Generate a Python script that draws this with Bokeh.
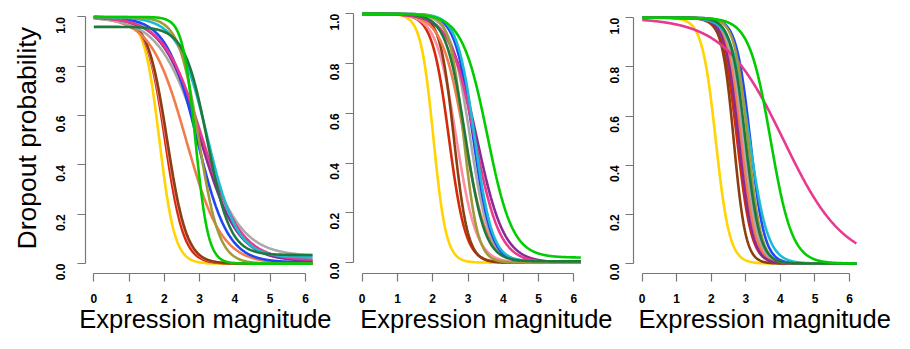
import numpy as np
from bokeh.plotting import figure
from bokeh.layouts import row, column
from bokeh.models import Range1d, FixedTicker, NumeralTickFormatter, Title
from bokeh.core.properties import value
from bokeh.embed import file_html
from bokeh.resources import INLINE

# ---------------- data ----------------
curve_names = ["gold", "red", "pink", "brown", "coral", "gray", "purple",
               "blue", "magenta", "cyan", "olive", "darkgreen", "green"]
curve_colors = ["#FFD400", "#D42A0A", "#FF8DA1", "#8B3E0F", "#F27B4B", "#A9A9A9",
                "#8B2A93", "#1F45F5", "#E8388F", "#19BCD2", "#A09A3C", "#1D7A3C", "#00CC00"]

# fitted logistic dropout curves: midpoint, slope, upper and lower asymptote
p1_midpoint = [1.86, 2.02, 2.06, 2.08, 2.62, 3.00, 3.02, 2.93, 3.08, 3.22, 2.98, 3.22, 2.88]
p1_slope    = [4.6, 3.8, 3.6, 3.6, 2.0, 1.7, 1.9, 2.3, 1.85, 2.4, 3.5, 3.1, 5.5]
p1_upper    = [1, 1, 1, 1, 1, 1, 1, 1, 1, 1, 1, 0.96, 1]
p1_lower    = [0, 0, 0, 0, 0, 0.03, 0.01, 0.005, 0.013, 0.025, 0, 0.035, 0]

p2_midpoint = [2.02, 2.46, 2.67, 2.60, 2.90, 3.06, 3.25, 3.15, 3.19, 3.19, 2.88, 2.93, 3.55]
p2_slope    = [5.5, 4.2, 3.5, 5.0, 3.1, 3.7, 2.6, 3.9, 2.8, 4.0, 5.0, 3.6, 2.8]
p2_upper    = [1] * 13
p2_lower    = [0, 0, 0, 0, 0, 0.005, 0, 0, 0, 0.005, 0, 0.005, 0.02]

p3_midpoint = [2.13, 2.75, 2.89, 2.65, 2.86, 2.94, 2.80, 3.13, 4.10, 3.11, 3.06, 2.99, 3.72]
p3_slope    = [5.0, 4.8, 4.8, 5.8, 4.9, 4.8, 5.0, 4.9, 1.15, 3.8, 5.2, 4.8, 3.2]
p3_upper    = [1] * 13
p3_lower    = [0] * 13

x_max = 6.2
x_ticks = [0, 1, 2, 3, 4, 5, 6]
y_ticks = [0.0, 0.2, 0.4, 0.6, 0.8, 1.0]
x_title = "Expression magnitude"
y_title = "Dropout probability"

# ---------------- layout / style ----------------
FONT = "Liberation Sans"
AXIS_COLOR = "#777777"
ROW_H = 288            # height of the three panels
STRIP_H = 333 - ROW_H  # strip below: x tick labels and x titles
STRIP_TOP = 20         # part of the strip above its frame (tick labels)

# pixel geometry of each panel
panels = [
    dict(left=0,   width=320, axis=85,  x0=93.3,  ppx=35.28, fh=277, y0=267.0, y1=16.7, ys=17, tx=78.7),
    dict(left=320, width=280, axis=353, x0=361.7, ppx=35.27, fh=276, y0=265.0, y1=13.5, ys=11, tx=359.7),
    dict(left=600, width=294, axis=633, x0=641.7, ppx=34.55, fh=273, y0=263.0, y1=17.3, ys=11, tx=638.0),
]
curve_sets = [
    (p1_midpoint, p1_slope, p1_upper, p1_lower),
    (p2_midpoint, p2_slope, p2_upper, p2_lower),
    (p3_midpoint, p3_slope, p3_upper, p3_lower),
]


def style_axis(ax):
    ax.axis_line_color = AXIS_COLOR
    ax.axis_line_width = 1.2
    ax.major_tick_line_color = AXIS_COLOR
    ax.major_tick_line_width = 1.2
    ax.major_tick_out = 8
    ax.major_tick_in = 0
    ax.minor_tick_out = 0
    ax.minor_tick_in = 0
    ax.major_label_text_font = FONT
    ax.major_label_text_font_style = "bold"
    ax.major_label_text_font_size = "12px"
    ax.major_label_text_color = "black"


def make_panel(curves, g):
    mid, slope, upper, lower = curves
    border_left = g["axis"] - g["left"]
    frame_w = g["width"] - border_left
    x0_local = g["x0"] - g["left"]
    x_start = (border_left - x0_local) / g["ppx"]
    x_end = x_start + frame_w / g["ppx"]
    ppy = g["y0"] - g["y1"]
    y_start = -(g["fh"] - g["y0"]) / ppy
    y_end = y_start + g["fh"] / ppy
    p = figure(width=g["width"], height=ROW_H,
               x_range=Range1d(x_start, x_end), y_range=Range1d(y_start, y_end),
               output_backend="svg", toolbar_location=None,
               min_border_left=border_left, min_border_right=0,
               min_border_top=0, min_border_bottom=ROW_H - g["fh"])
    p.outline_line_color = None
    p.grid.visible = False
    xs = np.linspace(0, x_max, 500)
    for c, m, k, hi, lo in zip(curve_colors, mid, slope, upper, lower):
        ys = lo + (hi - lo) / (1.0 + np.exp(k * (xs - m)))
        p.line(xs, ys, line_color=c, line_width=2.6)
    p.xaxis.ticker = FixedTicker(ticks=x_ticks)
    p.yaxis.ticker = FixedTicker(ticks=y_ticks)
    p.yaxis.formatter = NumeralTickFormatter(format="0.0")
    p.xaxis.bounds = (0, 6)
    p.yaxis.bounds = (0, 1)
    style_axis(p.xaxis[0])
    style_axis(p.yaxis[0])
    # this axis only draws the line and ticks; its labels are written in the strip below
    p.xaxis.major_label_text_color = None
    p.xaxis.major_label_text_font_size = "0px"
    p.xaxis.major_label_standoff = 0
    p.yaxis.major_label_standoff = g["ys"]
    p.yaxis.major_label_orientation = np.pi / 2
    return p


figs = [make_panel(c, g) for c, g in zip(curve_sets, panels)]

figs[0].add_layout(Title(text=y_title, align="left", offset=24,
                         text_font_size="26.5px", text_font=FONT,
                         text_font_style="normal", text_color="black",
                         standoff=14), "left")

# strip under the panels: an axis on top carrying the x tick labels of all three
# panels (positions from each panel's x scale), and the three x titles below it
tick_pos, tick_text = [], {}
for g in panels:
    for t in x_ticks:
        pos = round(g["x0"] + t * g["ppx"], 1)
        tick_pos.append(pos)
        tick_text[pos] = str(t)

fb = figure(width=894, height=STRIP_H, x_range=Range1d(0, 894),
            y_range=Range1d(0, STRIP_H - STRIP_TOP),
            output_backend="svg", toolbar_location=None,
            x_axis_location="above", y_axis_location=None,
            min_border_left=0, min_border_right=0,
            min_border_top=STRIP_TOP, min_border_bottom=0)
fb.outline_line_color = None
fb.grid.visible = False
ax = fb.xaxis[0]
style_axis(ax)
ax.ticker = FixedTicker(ticks=tick_pos)
ax.major_label_overrides = tick_text
ax.axis_line_color = None
ax.major_tick_line_color = None
ax.major_tick_out = 0
ax.major_label_standoff = 6

fb.text(x=[g["tx"] for g in panels], y=[14.6] * 3, text=[x_title] * 3,
        text_font=value(FONT), text_font_size="25.5px", text_color="black",
        text_align="left", text_baseline="middle")

layout = column(row(*figs), fb)

open("out.html", "w").write(file_html(layout, INLINE))
